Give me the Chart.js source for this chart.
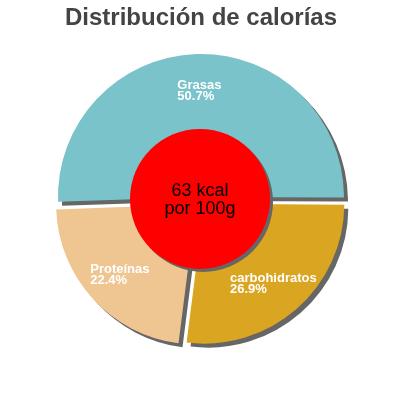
<!DOCTYPE html>
<html>
<head>
<meta charset="utf-8">
<script src="https://cdn.jsdelivr.net/npm/chart.js@4.4.1/dist/chart.umd.min.js"></script>
<style>
  html, body { margin: 0; padding: 0; background: #fff; }
</style>
</head>
<body>
<canvas id="calChart" width="400" height="400"></canvas>
<script>
// data
const labels = ['Grasas', 'carbohidratos', 'Proteínas'];
const values = [50.7, 26.9, 22.4];
const centerLines = ['63 kcal', 'por 100g'];

const sliceColors = ['#7ac3cb', '#daa520', '#efc592'];

// shadow under slices + red centre disc + labels
const decorPlugin = {
    id: 'decor',
    beforeDatasetsDraw(chart) {
        const ctx = chart.ctx;
        ctx.save();
        ctx.shadowColor = '#666666';
        ctx.shadowBlur = 0;
        ctx.shadowOffsetX = 4;
        ctx.shadowOffsetY = 4;
    },
    afterDatasetsDraw(chart) {
        const ctx = chart.ctx;
        ctx.restore();
        const meta = chart.getDatasetMeta(0);
        const first = meta.data[0];
        const cx = first.x, cy = first.y;

        // red disc
        ctx.save();
        ctx.shadowColor = '#666666';
        ctx.shadowBlur = 0;
        ctx.shadowOffsetX = 3;
        ctx.shadowOffsetY = 3;
        ctx.beginPath();
        ctx.arc(cx - 1, cy - 1, 70, 0, Math.PI * 2);
        ctx.fillStyle = '#ff0000';
        ctx.fill();
        ctx.restore();

        // slice labels
        ctx.save();
        ctx.font = 'bold 13px "Liberation Sans", Arial, sans-serif';
        ctx.fillStyle = '#ffffff';
        ctx.textAlign = 'left';
        ctx.textBaseline = 'alphabetic';
        meta.data.forEach((arc, i) => {
            const p = arc.getProps(['x', 'y', 'startAngle', 'endAngle', 'outerRadius'], true);
            const mid = (p.startAngle + p.endAngle) / 2;
            const dist = p.outerRadius * 0.785;
            const px = p.x + Math.cos(mid) * dist;
            const py = p.y + Math.sin(mid) * dist;
            const l1 = labels[i];
            const l2 = values[i].toFixed(1) + '%';
            const w = Math.max(ctx.measureText(l1).width, ctx.measureText(l2).width);
            const left = px - w / 2;
            ctx.fillText(l1, left, py - 1);
            ctx.fillText(l2, left, py + 10);
        });
        ctx.restore();

        // centre text
        ctx.save();
        ctx.font = '18px "Liberation Sans", Arial, sans-serif';
        ctx.fillStyle = '#000000';
        ctx.textAlign = 'center';
        ctx.textBaseline = 'alphabetic';
        ctx.fillText(centerLines[0], cx - 1, cy - 4);
        ctx.fillText(centerLines[1], cx - 1, cy + 14);
        ctx.restore();
    }
};

const calChart = new Chart(document.getElementById('calChart'), {
    type: 'pie',
    data: {
        labels: labels,
        datasets: [{
            data: values,
            backgroundColor: sliceColors,
            borderWidth: 0,
            offset: [12, 20, 26]
        }]
    },
    options: {
        responsive: false,
        animation: false,
        rotation: -92.1,
        radius: 140,
        layout: {
            padding: { top: 0, bottom: 33, left: 2, right: 0 }
        },
        plugins: {
            legend: { display: false },
            tooltip: { enabled: false },
            title: {
                display: true,
                text: 'Distribución de calorías',
                color: '#444444',
                font: { family: '"Liberation Sans", Arial, sans-serif', size: 24, weight: 'bold', lineHeight: 1.2 },
                padding: { top: 4, bottom: 0 }
            }
        }
    },
    plugins: [decorPlugin]
});
</script>
</body>
</html>
